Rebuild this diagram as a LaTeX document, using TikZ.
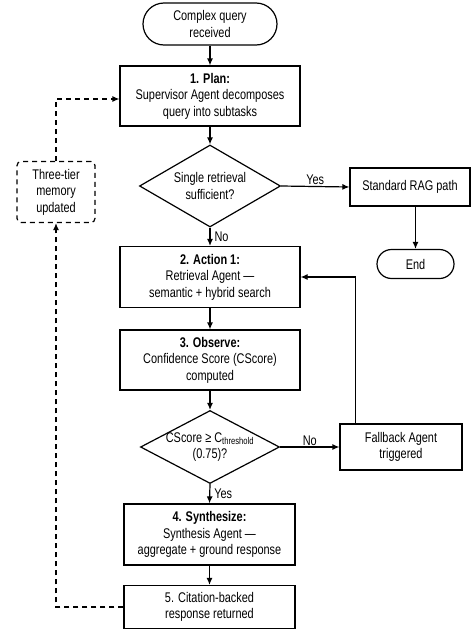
\documentclass[tikz,border=0pt]{standalone}
\usepackage{fontspec}
\setmainfont{Liberation Sans}[FakeStretch=0.78]
\usetikzlibrary{shapes.geometric,arrows.meta}
\begin{document}
\begin{tikzpicture}[x=1pt,y=-1pt,
  font=\fontsize{14}{16.5}\selectfont,
  box/.style={draw, line width=1.2pt, minimum width=180pt, minimum height=60pt, align=center, inner sep=1pt},
  term/.style={draw, line width=1.2pt, align=center, inner sep=1pt},
  dec/.style={diamond, draw, line width=1.2pt, inner sep=0pt},
  dtext/.style={align=center, inner sep=0pt},
  arr/.style={-{Latex[length=7pt,width=6pt]}, line width=1.2pt},
  darr/.style={-{Latex[length=7pt,width=6pt]}, line width=1.2pt, dash pattern=on 5pt off 4pt},
  lbl/.style={inner sep=1pt}]
\useasboundingbox (0,0) rectangle (471,635);

\node[term, minimum width=134pt, minimum height=42pt, rounded corners=21pt] (start) at (210,24) {Complex query\\received};
\node[box] (plan) at (210,96) {\textbf{1. Plan:}\\Supervisor Agent decomposes\\query into subtasks};
\node[dec, minimum width=141pt, minimum height=82pt, label={[dtext]center:Single retrieval\\sufficient?}] (d1) at (210,186) {};
\node[box, minimum width=120pt, minimum height=38pt] (rag) at (410,187) {Standard RAG path};
\node[term, minimum width=77pt, minimum height=29pt, rounded corners=14.5pt] (end) at (415.5,264) {End};
\node[box, dash pattern=on 5pt off 4pt, rounded corners=4pt, minimum width=78pt, minimum height=61pt] (mem) at (56,192) {Three-tier\\memory\\updated};
\node[box, minimum height=61pt] (act) at (210,277) {\textbf{2. Action 1:}\\Retrieval Agent —\\semantic + hybrid search};
\node[box] (obs) at (210,360) {\textbf{3. Observe:}\\Confidence Score (CScore)\\computed};
\node[dec, minimum width=139pt, minimum height=73pt, label={[dtext]center:CScore ≥ C\textsubscript{threshold}\\(0.75)?}] (d2) at (210,447) {};
\node[box, minimum width=122pt, minimum height=46pt] (fb) at (401,447) {Fallback Agent\\triggered};
\node[box, minimum width=171pt, minimum height=61pt] (syn) at (209.5,534.5) {\textbf{4. Synthesize:}\\Synthesis Agent —\\aggregate + ground response};
\node[box, minimum width=171pt, minimum height=43pt] (cit) at (209.5,607) {5. Citation-backed\\response returned};

\draw[arr] (start) -- (plan);
\draw[arr] (plan) -- (d1);
\draw[arr] (d1.east) -- node[lbl, above] {Yes} (rag.west);
\draw[arr] (rag.south -| end.north) -- (end.north);
\draw[arr] (d1.south) -- node[lbl, right, xshift=3pt] {No} (act.north);
\draw[arr] (act) -- (obs);
\draw[arr] (obs) -- (d2);
\draw[arr] (d2.east) -- node[lbl, above] {No} (fb.west);
\draw[arr] ([xshift=16pt]fb.north west) |- (act.east);
\draw[arr] (d2.south) -- node[lbl, right, xshift=3pt] {Yes} (syn.north);
\draw[arr] (syn) -- (cit);
\draw[darr] (cit.west) -| (mem.south);
\draw[darr] (mem.north) |- ([yshift=-3pt]plan.west);
\end{tikzpicture}
\end{document}
